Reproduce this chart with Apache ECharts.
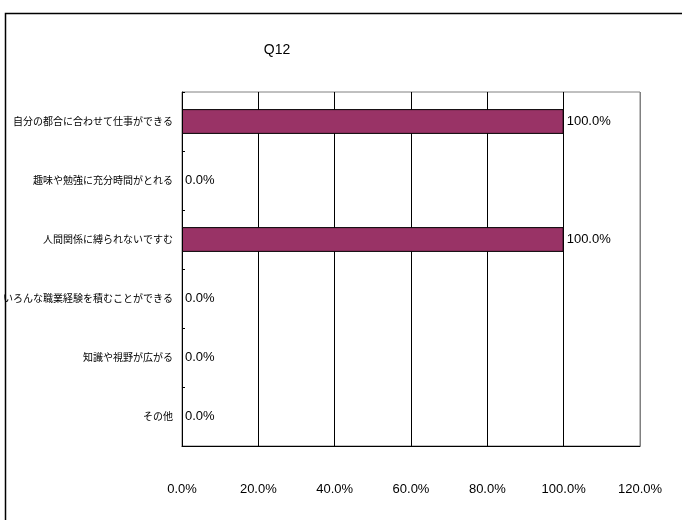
<!DOCTYPE html>
<html>
<head>
<meta charset="utf-8">
<script src="https://cdn.jsdelivr.net/npm/echarts@6/dist/echarts.min.js"></script>
<style>
  html, body { margin: 0; padding: 0; background: #fff; }
  #chart { width: 682px; height: 520px; }
</style>
</head>
<body>
<div id="chart"></div>
<script>
// 設問 Q12 の回答割合
var categories = [
  "自分の都合に合わせて仕事ができる",
  "趣味や勉強に充分時間がとれる",
  "人間関係に縛られないですむ",
  "いろんな職業経験を積むことができる",
  "知識や視野が広がる",
  "その他"
];
var values = [100, 0, 100, 0, 0, 0];
var xTicks = [0, 20, 40, 60, 80, 100, 120];

var fontFam = '"Liberation Sans", "Noto Sans CJK JP", sans-serif';

// 0% のバーは枠線を描かない
var barData = values.map(function (v) {
  return { value: v, itemStyle: { borderWidth: v === 0 ? 0 : 1 } };
});

var myChart = echarts.init(document.getElementById("chart"));
myChart.setOption({
  animation: false,
  backgroundColor: "#fff",
  title: {
    text: "Q12",
    left: 272,
    top: 38,
    textAlign: "center",
    textStyle: { fontFamily: fontFam, fontSize: 14, fontWeight: "normal", color: "#000" }
  },
  graphic: [
    {
      // 外枠
      type: "rect",
      z: 100,
      shape: { x: 5.5, y: 13.5, width: 720, height: 600 },
      style: { fill: "none", stroke: "#000", lineWidth: 1.5 }
    }
  ],
  grid: {
    left: 178,
    top: 92,
    width: 462,
    height: 354,
    show: true,
    borderColor: "#808080",
    borderWidth: 1
  },
  xAxis: {
    type: "value",
    min: xTicks[0],
    max: xTicks[xTicks.length - 1],
    interval: 20,
    axisLine: { show: true, lineStyle: { color: "#000", width: 1 } },
    axisTick: { show: false },
    axisLabel: {
      margin: 37,
      fontFamily: fontFam,
      fontSize: 13,
      color: "#000",
      formatter: function (v) { return v.toFixed(1) + "%"; }
    },
    splitLine: {
      show: true,
      lineStyle: { color: ["#000", "#000", "#000", "#000", "#000", "#000", "#808080"], width: 1 }
    }
  },
  yAxis: {
    type: "category",
    data: categories,
    inverse: true,
    axisLine: { show: true, onZero: false, lineStyle: { color: "#000", width: 1 } },
    axisTick: { show: true, inside: true, length: 3, lineStyle: { color: "#000" } },
    axisLabel: {
      margin: 9,
      fontFamily: '"Noto Sans CJK JP", sans-serif',
      fontSize: 10,
      color: "#000"
    },
    splitLine: { show: false }
  },
  series: [
    {
      type: "bar",
      data: barData,
      barWidth: "42%",
      itemStyle: { color: "#993366", borderColor: "#000", borderWidth: 1 },
      label: {
        show: true,
        position: "right",
        distance: 3,
        fontFamily: fontFam,
        fontSize: 13,
        color: "#000",
        formatter: function (p) { return p.value.toFixed(1) + "%"; }
      }
    }
  ]
});
</script>
</body>
</html>
